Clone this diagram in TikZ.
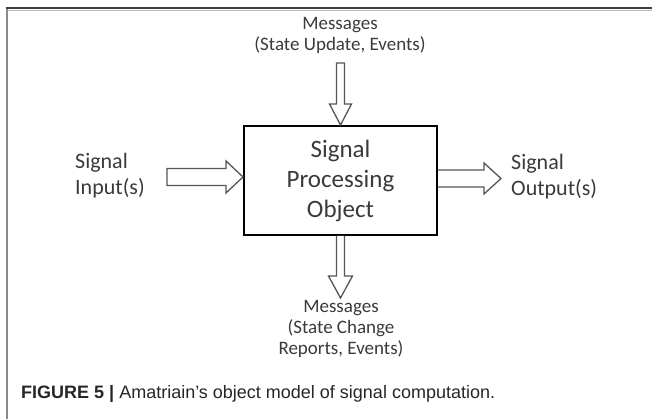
\documentclass[tikz,border=0pt]{standalone}
\usepackage{fontspec}
\setmainfont{Carlito}
\newfontfamily\capfont{Liberation Sans}
\usetikzlibrary{calc}

\definecolor{inkgray}{HTML}{3A3A3A}
\definecolor{arrowgray}{HTML}{555555}
\definecolor{framedark}{HTML}{404040}
\definecolor{framelight}{HTML}{8A8A8A}

\tikzset{
  label19/.style={font=\fontsize{19}{21}\selectfont, text=inkgray, align=center, inner sep=0pt},
  side22/.style={font=\fontsize{22}{26}\selectfont, text=inkgray, align=left, inner sep=0pt, anchor=west},
  procbox/.style={draw=black, line width=2pt, minimum width=193pt, minimum height=109pt,
                  font=\fontsize{25}{30}\selectfont, text=inkgray, align=center, inner sep=0pt},
  blockarrow/.style={draw=arrowgray, line width=1.3pt, fill=white, line join=miter},
}

\begin{document}
\begin{tikzpicture}[x=1pt, y=-1pt]
  \useasboundingbox (0,0) rectangle (652,419);

  % figure frame: top rule and left rule
  \draw[framelight, line width=1.4pt] (7,8) -- (7,419);
  \draw[framedark, line width=2pt] (6,8) -- (652,8);
  \draw[framelight!60, line width=0.8pt] (8,10) -- (652,10);

  % central block
  \node[procbox] (box) at (340.5,180.5) {Signal\\Processing\\Object};

  % labels
  \node[label19] (msgin) at (340,35) {Messages\\(State Update, Events)};
  \node[label19] (msgout) at (341,329) {Messages\\(State Change\\Reports, Events)};
  \node[side22] (sigin) at (75,176) {Signal\\Input(s)};
  \node[side22] (sigout) at (511,177) {Signal\\Output(s)};

  % incoming messages arrow (tip on the top edge of the block)
  \draw[blockarrow] ($(box.north)+(-4,-62)$) -- ($(box.north)+(4,-62)$)
    -- ($(box.north)+(4,-21)$) -- ($(box.north)+(11,-21)$) -- (box.north)
    -- ($(box.north)+(-11,-21)$) -- ($(box.north)+(-4,-21)$) -- cycle;

  % outgoing messages arrow
  \draw[blockarrow] ($(box.south)+(-4,0)$) -- ($(box.south)+(-4,40)$)
    -- ($(box.south)+(-12,40)$) -- ($(box.south)+(0,62)$) -- ($(box.south)+(12,40)$)
    -- ($(box.south)+(4,40)$) -- ($(box.south)+(4,0)$);

  % signal input arrow
  \coordinate (inTip) at ($(box.west)+(0,-3.5)$);
  \draw[blockarrow] ($(inTip)+(-76,-8.5)$) -- ($(inTip)+(-17,-8.5)$)
    -- ($(inTip)+(-17,-16)$) -- (inTip) -- ($(inTip)+(-17,16)$)
    -- ($(inTip)+(-17,8.5)$) -- ($(inTip)+(-76,8.5)$) -- cycle;

  % signal output arrow
  \coordinate (outBase) at ($(box.east)+(0,-2)$);
  \draw[blockarrow] ($(outBase)+(0,-8.5)$) -- ($(outBase)+(46,-8.5)$)
    -- ($(outBase)+(46,-15.5)$) -- ($(outBase)+(63,0)$) -- ($(outBase)+(46,15.5)$)
    -- ($(outBase)+(46,8.5)$) -- ($(outBase)+(0,8.5)$);

  % caption
  \node[anchor=west, inner sep=0pt, font=\capfont\fontsize{18}{20}\selectfont, text=black!85] (caption) at (21,394)
    {\textbf{FIGURE 5 |} Amatriain’s object model of signal computation.};
\end{tikzpicture}
\end{document}
